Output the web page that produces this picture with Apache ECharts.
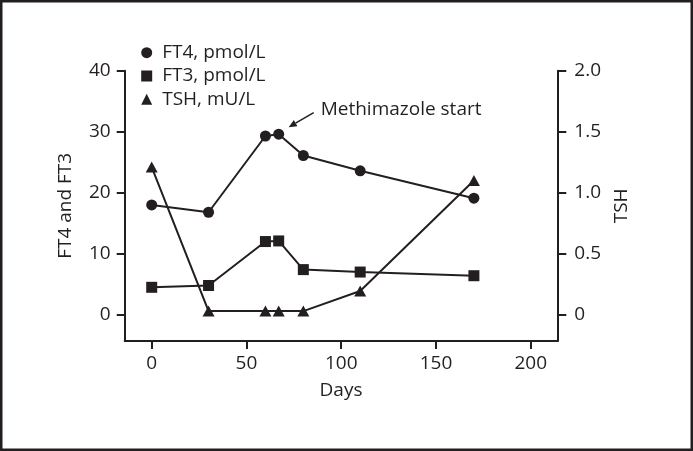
<!DOCTYPE html>
<html><head><meta charset="utf-8">
<script src="https://cdn.jsdelivr.net/npm/echarts@6/dist/echarts.min.js"></script>
<style>html,body{margin:0;padding:0;background:#fff}#c{width:693px;height:451px}</style>
</head><body><div id="c"></div>
<script>
const days = [0, 30, 60, 67, 80, 110, 170];
const ft4 = [18.0, 16.8, 29.3, 29.6, 26.1, 23.6, 19.1];
const ft3 = [4.5, 4.8, 12.0, 12.1, 7.4, 7.0, 6.4];
const tsh = [1.21, 0.03, 0.03, 0.03, 0.03, 0.195, 1.1];
const xTicks = [0, 50, 100, 150, 200];
const leftTicks = [0, 10, 20, 30, 40];
const rightTicks = [0, 0.5, 1.0, 1.5, 2.0];
const seriesNames = ['FT4, pmol/L', 'FT3, pmol/L', 'TSH, mU/L'];
const xName = 'Days';
const leftName = 'FT4 and FT3';
const rightName = 'TSH';
const annotation = 'Methimazole start';
const annotationIndex = 3;

const ink = '#231f20';
const font = 'Open Sans';
const fs = 19;

function pairs(ys) { return days.map((d, i) => [d, ys[i]]); }

const chart = echarts.init(document.getElementById('c'), null, { renderer: 'canvas' });

const lineStyle = { color: ink, width: 2 };
function series(name, data, symbol, size, yIdx) {
  return {
    type: 'line', name, data, yAxisIndex: yIdx,
    symbol, symbolSize: size, showAllSymbol: true,
    lineStyle, itemStyle: { color: ink, borderWidth: 0 },
    emphasis: { disabled: true }, z: 3
  };
}

chart.setOption({
  animation: false,
  backgroundColor: '#fff',
  textStyle: { fontFamily: font, color: ink },
  grid: { left: 124.7, right: 135.7, top: 70.7, bottom: 110, containLabel: false },
  legend: {
    orient: 'vertical', left: 141.2, top: 43.2, padding: 0,
    itemWidth: 11, itemHeight: 11, itemGap: 4.3,
    selectedMode: false,
    textStyle: { fontFamily: font, fontSize: fs, color: ink, lineHeight: 19, padding: [0, 0, 0, 5] },
    data: [
      { name: seriesNames[0], icon: 'circle' },
      { name: seriesNames[1], icon: 'rect' },
      { name: seriesNames[2], icon: 'triangle' }
    ]
  },
  xAxis: {
    type: 'value', min: -14.25, max: 214,
    name: xName, nameLocation: 'middle', nameGap: 40,
    nameTextStyle: { fontFamily: font, fontSize: fs, color: ink },
    axisLine: { show: true, onZero: false, lineStyle: { color: ink, width: 2 } },
    axisTick: { show: true, length: 8, lineStyle: { color: ink, width: 2 }, customValues: xTicks },
    axisLabel: { fontFamily: font, fontSize: fs, color: ink, margin: 13, customValues: xTicks },
    splitLine: { show: false }
  },
  yAxis: [
    {
      type: 'value', position: 'left', min: -4.3, max: 40,
      name: leftName, nameLocation: 'middle', nameGap: 50, nameRotate: 90,
      nameTextStyle: { fontFamily: font, fontSize: fs, color: ink },
      axisLine: { show: true, onZero: false, lineStyle: { color: ink, width: 2 } },
      axisTick: { show: true, length: 8, lineStyle: { color: ink, width: 2 }, customValues: leftTicks },
      axisLabel: { fontFamily: font, fontSize: fs, color: ink, margin: 14, customValues: leftTicks },
      splitLine: { show: false }
    },
    {
      type: 'value', position: 'right', min: -0.215, max: 2.0,
      name: rightName, nameLocation: 'middle', nameGap: 54, nameRotate: 90,
      nameTextStyle: { fontFamily: font, fontSize: fs, color: ink },
      axisLine: { show: true, onZero: false, lineStyle: { color: ink, width: 2 } },
      axisTick: { show: true, length: 9, lineStyle: { color: ink, width: 2 }, customValues: rightTicks },
      axisLabel: { fontFamily: font, fontSize: fs, color: ink, margin: 17, customValues: rightTicks,
        formatter: v => v === 0 ? '0' : v.toFixed(1) },
      splitLine: { show: false }
    }
  ],
  series: [
    series(seriesNames[0], pairs(ft4), 'circle', 11, 0),
    series(seriesNames[1], pairs(ft3), 'rect', 11, 0),
    series(seriesNames[2], pairs(tsh), 'triangle', [12, 11], 1)
  ]
});

// annotation anchored to the data point
const p = chart.convertToPixel({ seriesIndex: 0 }, [days[annotationIndex], ft4[annotationIndex]]);
const tail = [p[0] + 35, p[1] - 21.6];
const tip = [p[0] + 10, p[1] - 7];
const dx = tip[0] - tail[0], dy = tip[1] - tail[1];
const L = Math.hypot(dx, dy), ux = dx / L, uy = dy / L;
const hl = 8, hw = 3.5;
const base = [tip[0] - ux * hl, tip[1] - uy * hl];
const nx = -uy, ny = ux;

chart.setOption({
  graphic: [
    { type: 'rect', shape: { x: 1.25, y: 1.25, width: 690.5, height: 448.5 },
      style: { fill: 'none', stroke: ink, lineWidth: 2.5 }, z: 10, silent: true },
    { type: 'line', shape: { x1: tail[0], y1: tail[1], x2: base[0], y2: base[1] },
      style: { stroke: ink, lineWidth: 1.5 }, silent: true },
    { type: 'polygon', shape: { points: [tip, [base[0] + nx * hw, base[1] + ny * hw], [base[0] - nx * hw, base[1] - ny * hw]] },
      style: { fill: ink }, silent: true },
    { type: 'text', x: p[0] + 42, y: p[1] - 24.6,
      style: { text: annotation, fontFamily: font, fontSize: fs, fill: ink, verticalAlign: 'middle', align: 'left' }, silent: true }
  ]
});
</script>
</body></html>
